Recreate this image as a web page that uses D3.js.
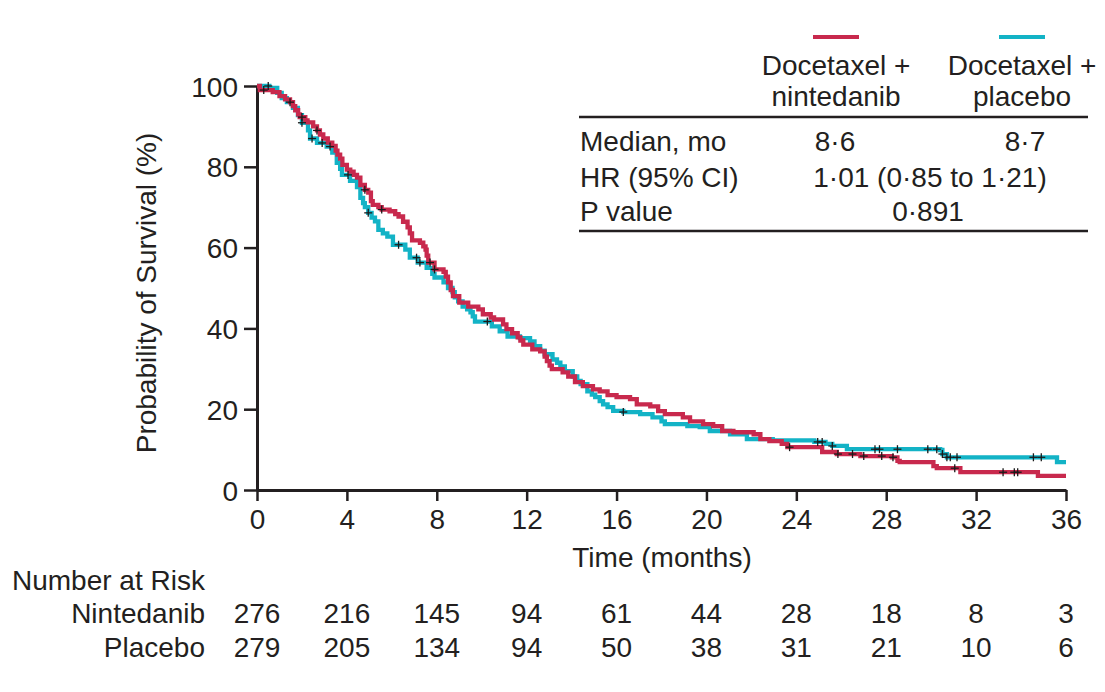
<!DOCTYPE html>
<html>
<head>
<meta charset="utf-8">
<script src="https://cdn.jsdelivr.net/npm/d3@7"></script>
<style>
  html, body { margin: 0; padding: 0; background: #fff; }
  svg text { font-family: "Liberation Sans", Arial, sans-serif; fill: #231F20; }
</style>
</head>
<body>
<svg id="chart" width="1105" height="692"></svg>
<script>
// Kaplan–Meier overall survival, docetaxel + nintedanib vs docetaxel + placebo
const monthTicks = [0, 4, 8, 12, 16, 20, 24, 28, 32, 36];
const survTicks = [0, 20, 40, 60, 80, 100];

// step times (months) and survival (%) after each step
const nintTimes = [0, 0.13, 0.7, 1.0, 1.25, 1.47, 1.6, 1.7, 1.83, 1.9, 2.15, 2.25, 2.5, 2.67, 2.8, 2.95, 3.15, 3.35, 3.5, 3.58, 3.7, 3.8, 4.0, 4.15, 4.3, 4.45, 4.6, 4.8, 4.95, 5.07, 5.15, 5.4, 5.55, 5.9, 6.15, 6.3, 6.5, 6.7, 6.8, 6.9, 7.25, 7.4, 7.5, 7.55, 7.62, 7.9, 8.3, 8.4, 8.5, 8.62, 8.72, 9.0, 9.4, 9.85, 10.05, 10.4, 10.55, 10.95, 11.1, 11.35, 11.6, 11.72, 11.85, 12.25, 12.6, 12.8, 12.9, 13.02, 13.12, 13.6, 13.85, 14.15, 14.5, 14.95, 15.25, 15.6, 16.0, 16.6, 16.9, 17.5, 17.85, 18.15, 18.95, 19.27, 19.85, 20.3, 20.7, 21.2, 22.1, 22.4, 22.8, 23.35, 23.6, 25.15, 25.8, 26.85, 28.25, 28.5, 28.6, 30.1, 30.25, 31.3, 34.75];
const nintSurv = [100, 99, 98.5, 97.5, 96.7, 96, 95, 94, 93, 92.3, 91.5, 91, 90, 89, 88, 87, 86, 85.2, 84, 83, 82, 80.5, 79.3, 78.8, 78, 77.3, 75.5, 74.3, 73.6, 71.5, 70.6, 70, 69.4, 69, 68.3, 67.7, 66.4, 65, 63.5, 61.8, 61.2, 60.3, 59.5, 58, 56.3, 54.6, 54, 52.8, 51.4, 49.5, 48, 46.4, 45.4, 44.7, 43.5, 42.7, 42.2, 41, 39.8, 38.8, 37.8, 37, 36, 34.8, 34.3, 33, 31.9, 30.8, 29.9, 29.1, 28.1, 26.7, 25.7, 24.9, 24.4, 23.5, 23, 22.5, 21.2, 20.7, 19.5, 18.8, 18, 17, 16.3, 15.8, 14.6, 14.3, 13.8, 12.6, 12.1, 11.4, 10.6, 9.4, 8.9, 8.4, 8.1, 7.2, 6.9, 5.9, 5.4, 4.4, 3.5];

const placTimes = [0, 0.55, 0.9, 1.1, 1.33, 1.6, 1.82, 2.0, 2.27, 2.36, 2.67, 3.1, 3.35, 3.55, 3.7, 3.78, 4.14, 4.45, 4.6, 4.72, 4.8, 4.95, 5.1, 5.25, 5.4, 5.6, 5.8, 6.05, 6.6, 6.8, 7.15, 7.55, 7.8, 7.9, 8.3, 8.5, 8.7, 8.8, 8.95, 9.15, 9.35, 9.5, 9.6, 9.7, 10.45, 10.8, 11.15, 11.7, 12.15, 12.35, 12.6, 12.8, 13.15, 13.35, 13.5, 13.7, 14.05, 14.25, 14.4, 14.7, 14.9, 15.05, 15.25, 15.4, 15.6, 15.85, 16.3, 17.05, 17.6, 18.0, 18.15, 19.15, 19.7, 20.15, 21.05, 21.8, 22.95, 24.8, 25.3, 25.6, 26.25, 30.4, 30.5, 30.7, 35.6];
const placSurv = [100, 99.5, 98.3, 97, 96, 94.6, 92.8, 90.9, 89, 87, 85.9, 85, 83.5, 81, 79.5, 78, 76.5, 75, 72.3, 71, 70, 68.6, 67.4, 66.5, 64.4, 63.5, 62.7, 60.7, 59.5, 57.5, 56.3, 55, 53.5, 52.6, 51.4, 50, 49, 47.7, 46.7, 45.4, 44.7, 44, 43, 41.7, 40.5, 39.3, 38, 37.6, 36.8, 35.6, 34.5, 33.6, 32.3, 31.5, 30.6, 29.4, 28.1, 27, 26.2, 24.4, 23.6, 23, 22, 21.2, 20.5, 19.6, 19.3, 18.8, 18, 17, 16.3, 15.8, 15.6, 14.6, 13.8, 12.6, 12.3, 11.9, 11.4, 10.9, 10.1, 9.9, 8.9, 8.1, 6.9];

// censoring times (months)
const nintCensor = [0.3, 2.0, 2.67, 4.8, 5.55, 7.7, 7.9, 23.7, 25.85, 26.5, 27.0, 27.8, 28.3, 31.05, 33.2, 33.7, 33.85];
const placCensor = [0.5, 1.47, 2.0, 2.45, 2.9, 3.25, 4.05, 4.95, 6.3, 7.1, 7.25, 10.25, 16.3, 24.95, 25.15, 25.6, 27.5, 27.7, 28.5, 29.85, 30.25, 30.5, 30.7, 30.85, 31.15, 34.55, 34.9];

// number at risk at each month tick
const riskNint = [276, 216, 145, 94, 61, 44, 28, 18, 8, 3];
const riskPlac = [279, 205, 134, 94, 50, 38, 31, 21, 10, 6];

const seriesNames = ["Nintedanib", "Placebo"];
const legendHead = [["Docetaxel +", "nintedanib"], ["Docetaxel +", "placebo"]];
const tableRows = ["Median, mo", "HR (95% CI)", "P value"];
const medians = ["8\u00B76", "8\u00B77"];
const hrText = "1\u00B701 (0\u00B785 to 1\u00B721)";
const pText = "0\u00B7891";

const RED = "#C8294D";
const CYAN = "#13B3C6";
const INK = "#231F20";
const FS = 28;

const svg = d3.select("#chart");
svg.append("rect").attr("width", 1105).attr("height", 692).attr("fill", "#fff");

const x = d3.scaleLinear().domain([0, 36]).range([257, 1066]);
const y = d3.scaleLinear().domain([0, 100]).range([490, 86]);

// axes
const xAxis = d3.axisBottom(x).tickValues(monthTicks).tickSize(11).tickPadding(8).tickSizeOuter(0);
const yAxis = d3.axisLeft(y).tickValues(survTicks).tickSize(13).tickPadding(6).tickSizeOuter(0);

const gx = svg.append("g").attr("transform", `translate(0,${y(0)})`).call(xAxis);
const gy = svg.append("g").attr("transform", `translate(${x(0)},0)`).call(yAxis);
[gx, gy].forEach(g => {
  g.select(".domain").attr("stroke", INK).attr("stroke-width", 3);
  g.selectAll(".tick line").attr("stroke", INK).attr("stroke-width", 2.5);
  g.selectAll(".tick text").attr("font-size", FS).attr("font-family", "Liberation Sans, Arial, sans-serif").attr("fill", INK);
});
gx.selectAll(".tick text").attr("dy", "0.71em");
gy.selectAll(".tick text").attr("dy", "0.36em");

// axis titles
svg.append("text").attr("transform", `translate(156,293) rotate(-90)`)
  .attr("text-anchor", "middle").attr("font-size", FS).text("Probability of Survival (%)");
svg.append("text").attr("x", 662).attr("y", 567)
  .attr("text-anchor", "middle").attr("font-size", FS).text("Time (months)");

// survival curves
const line = d3.line().x(d => x(d[0])).y(d => y(d[1])).curve(d3.curveStepAfter);
function steps(times, surv) {
  const pts = times.map((t, i) => [t, surv[i]]);
  pts.push([36, surv[surv.length - 1]]);
  return pts;
}
function valueAt(times, surv, t) {
  let v = surv[0];
  for (let i = 0; i < times.length; i++) { if (times[i] <= t) v = surv[i]; else break; }
  return v;
}

const series = [
  { times: placTimes, surv: placSurv, censor: placCensor, color: CYAN },
  { times: nintTimes, surv: nintSurv, censor: nintCensor, color: RED }
];

series.forEach(s => {
  svg.append("path").datum(steps(s.times, s.surv))
    .attr("d", line).attr("fill", "none").attr("stroke", s.color)
    .attr("stroke-width", 4.3).attr("stroke-linejoin", "miter");
});

// censor marks
series.forEach(s => {
  const g = svg.append("g").attr("stroke", "#1a1a1a").attr("stroke-width", 1.3);
  s.censor.forEach(t => {
    const cx = x(t), cy = y(valueAt(s.times, s.surv, t));
    g.append("line").attr("x1", cx - 4).attr("x2", cx + 4).attr("y1", cy).attr("y2", cy);
    g.append("line").attr("x1", cx).attr("x2", cx).attr("y1", cy - 4).attr("y2", cy + 4);
  });
});

// summary table with legend keys
const tl = 579, tr = 1088;
const colX = [836, 1022];
[RED, CYAN].forEach((c, i) => {
  svg.append("line").attr("x1", colX[i] - 23).attr("x2", colX[i] + 23)
    .attr("y1", 37).attr("y2", 37).attr("stroke", c).attr("stroke-width", 4);
  legendHead[i].forEach((t, j) => {
    svg.append("text").attr("x", colX[i]).attr("y", 75 + j * 31)
      .attr("text-anchor", "middle").attr("font-size", FS).text(t);
  });
});
[117, 231].forEach(yy => {
  svg.append("line").attr("x1", tl).attr("x2", tr).attr("y1", yy).attr("y2", yy)
    .attr("stroke", INK).attr("stroke-width", 2.5);
});
const rowY = [151, 187, 221];
tableRows.forEach((t, i) => {
  svg.append("text").attr("x", tl + 1).attr("y", rowY[i]).attr("font-size", FS).text(t);
});
svg.append("text").attr("x", 835).attr("y", rowY[0]).attr("text-anchor", "middle").attr("font-size", FS).text(medians[0]);
svg.append("text").attr("x", 1025).attr("y", rowY[0]).attr("text-anchor", "middle").attr("font-size", FS).text(medians[1]);
svg.append("text").attr("x", 930).attr("y", rowY[1]).attr("text-anchor", "middle").attr("font-size", FS).text(hrText);
svg.append("text").attr("x", 928).attr("y", rowY[2]).attr("text-anchor", "middle").attr("font-size", FS).text(pText);

// number at risk
svg.append("text").attr("x", 12).attr("y", 590).attr("font-size", FS).text("Number at Risk");
const riskY = [623, 657];
[riskNint, riskPlac].forEach((row, r) => {
  svg.append("text").attr("x", 205).attr("y", riskY[r]).attr("text-anchor", "end")
    .attr("font-size", FS).text(seriesNames[r]);
  row.forEach((v, i) => {
    svg.append("text").attr("x", x(monthTicks[i])).attr("y", riskY[r])
      .attr("text-anchor", "middle").attr("font-size", FS).text(v);
  });
});
</script>
</body>
</html>
